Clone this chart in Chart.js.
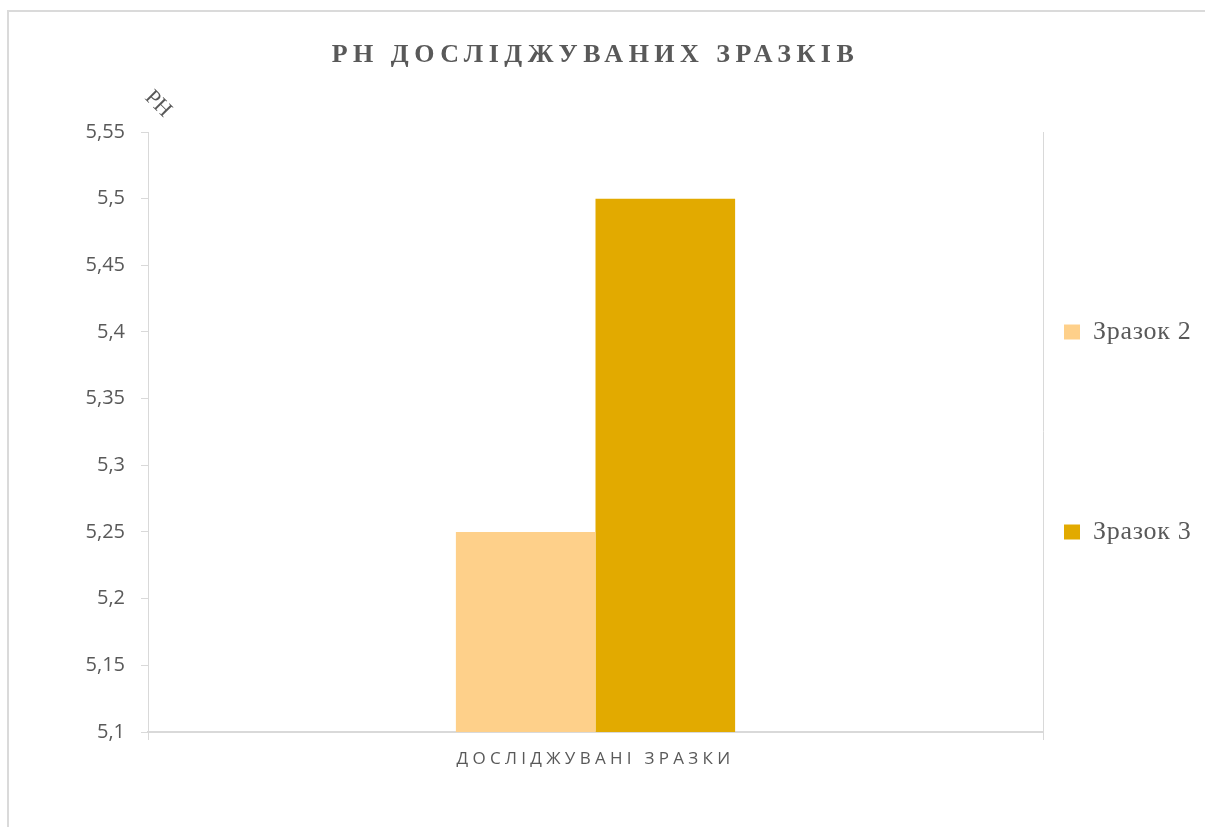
<!DOCTYPE html>
<html>
<head>
<meta charset="utf-8">
<script src="https://cdn.jsdelivr.net/npm/chart.js@4"></script>
<style>
  html, body { margin: 0; padding: 0; background: #ffffff; }
  #wrap { position: relative; width: 1205px; height: 827px; overflow: hidden; }
  #frame { position: absolute; left: 7px; top: 10px; width: 1220px; height: 840px;
           border-top: 2px solid #dadada; border-left: 2px solid #dadada; box-sizing: border-box; }
  #c { position: absolute; left: 0; top: 0; }
</style>
</head>
<body>
<div id="wrap">
  <div id="frame"></div>
  <canvas id="c" width="1205" height="827"></canvas>
</div>
<script>
// ---- data ----
const chartTitle = 'PH ДОСЛІДЖУВАНИХ ЗРАЗКІВ';
const yAxisTitle = 'PH';
const categories = ['ДОСЛІДЖУВАНІ ЗРАЗКИ'];
const seriesNames = ['Зразок 2', 'Зразок 3'];
const sample2Values = [5.25];
const sample3Values = [5.5];
const yTickValues = [5.1, 5.15, 5.2, 5.25, 5.3, 5.35, 5.4, 5.45, 5.5, 5.55];
const seriesColors = ['#FED08A', '#E2AA00'];

const textColor = '#595959';
const lineColor = '#d9d9d9';

const formatTick = v => String(Math.round(v * 100) / 100).replace('.', ',');

const stylePlugin = {
  id: 'stylePatch',
  beforeDraw(chart) {
    if (chart.$patched) return;
    chart.$patched = true;
    const ctx = chart.ctx;

    const tb = chart.titleBlock;
    const tDraw = tb.draw.bind(tb);
    tb.draw = function (a) { ctx.save(); ctx.letterSpacing = '5.5px'; tDraw(a); ctx.restore(); };

    const lg = chart.legend;
    const lDraw = lg.draw.bind(lg);
    lg.draw = function (a) {
      const oldLeft = lg.left;
      const targetX = 1064;
      lg.left = targetX - lg.options.labels.padding;
      ctx.save();
      ctx.letterSpacing = '0.7px';
      lDraw(a);
      ctx.restore();
      lg.left = oldLeft;
    };

    const xs = chart.scales.x;
    const xLab = xs.drawLabels.bind(xs);
    xs.drawLabels = function (a) { ctx.save(); ctx.letterSpacing = '4.3px'; xLab(a); ctx.restore(); };

    const ys = chart.scales.y;
    ys.drawTitle = function () {
      const ca = chart.chartArea;
      ctx.save();
      ctx.translate(ca.left + 10, ca.top - 28);
      ctx.rotate(Math.PI / 4);
      ctx.font = '22px "Liberation Serif", serif';
      ctx.fillStyle = textColor;
      ctx.textAlign = 'center';
      ctx.textBaseline = 'middle';
      ctx.fillText(ys.options.title.text, 0, 0);
      ctx.restore();
    };
  }
};

new Chart(document.getElementById('c'), {
  type: 'bar',
  data: {
    labels: categories,
    datasets: [
      { label: seriesNames[0], data: sample2Values, backgroundColor: seriesColors[0], borderWidth: 0 },
      { label: seriesNames[1], data: sample3Values, backgroundColor: seriesColors[1], borderWidth: 0 }
    ]
  },
  options: {
    responsive: false,
    animation: false,
    devicePixelRatio: 1,
    layout: { padding: 0 },
    datasets: { bar: { barPercentage: 1, categoryPercentage: 0.312 } },
    plugins: {
      tooltip: { enabled: false },
      title: {
        display: true,
        text: chartTitle,
        fullSize: false,
        color: textColor,
        font: { family: '"Liberation Serif", serif', size: 26, weight: 'bold', lineHeight: 1.2 },
        padding: { top: 40, bottom: 60.8 }
      },
      legend: {
        position: 'right',
        fullSize: false,
        maxWidth: 162,
        labels: {
          color: textColor,
          font: { family: '"Liberation Serif", serif', size: 26 },
          boxWidth: 16,
          boxHeight: 15,
          padding: 174
        }
      }
    },
    scales: {
      x: {
        offset: true,
        grid: { display: true, drawOnChartArea: true, drawTicks: true, tickLength: 8, color: lineColor, offset: true },
        border: { display: true, color: lineColor, width: 2 },
        ticks: { color: textColor, padding: 9, font: { family: '"Open Sans", sans-serif', size: 17 }, maxRotation: 0 },
        afterFit(scale) { scale.height = 95; }
      },
      y: {
        min: 5.1,
        max: 5.55,
        title: { display: true, text: yAxisTitle, color: textColor },
        grid: { drawOnChartArea: false, drawTicks: true, tickLength: 7, color: lineColor },
        border: { display: true, color: lineColor, width: 1 },
        ticks: {
          color: textColor,
          padding: 16,
          font: { family: '"Open Sans", sans-serif', size: 20 },
          callback: v => formatTick(v)
        },
        afterBuildTicks(scale) { scale.ticks = yTickValues.map(v => ({ value: v })); },
        afterFit(scale) { scale.width = 148; }
      }
    }
  },
  plugins: [stylePlugin]
});
</script>
</body>
</html>
